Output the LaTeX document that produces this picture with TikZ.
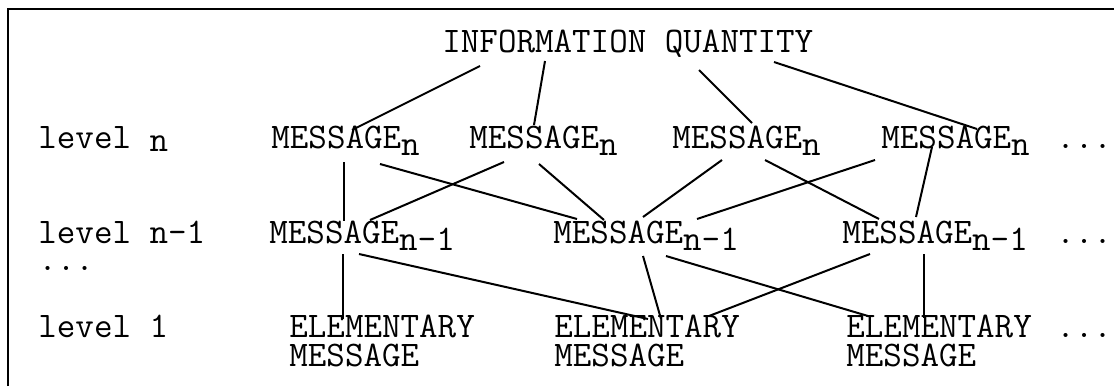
\documentclass[tikz,border=0pt]{standalone}
\usepackage{fontspec}
\usetikzlibrary{calc}
\newcommand{\lowsub}[1]{\raisebox{-3.5pt}{#1}}

\begin{document}
\begin{tikzpicture}[x=0.5pt,y=-0.5pt,
    txt/.style={inner sep=0pt,anchor=base west,align=left,
        font=\fontsize{18}{14.5}\selectfont\ttfamily},
    link/.style={line width=1pt}]
    \useasboundingbox (0,0) rectangle (1114,386);
    \draw[line width=1pt] (8,386) -- (8,9) -- (1114,9);

    \node[txt] (info) at (442,52) {INFORMATION QUANTITY};

    \node[txt] (lvn) at (38,148) {level \raisebox{-1.5pt}{n}};
    \node[txt] (m1) at (271,148) {MESSAGE\lowsub{n}};
    \node[txt] (m2) at (469,148) {MESSAGE\lowsub{n}};
    \node[txt] (m3) at (672,148) {MESSAGE\lowsub{n}};
    \node[txt] (m4) at (881,148) {MESSAGE\lowsub{n}};
    \node[txt] (dn) at (1056,148) {...};

    \node[txt] (lvk) at (38,243) {level n-1};
    \node[txt] (lvd) at (38,270) {...};
    \node[txt] (k1) at (269,243) {MESSAGE\lowsub{n-1}};
    \node[txt] (k2) at (553,243) {MESSAGE\lowsub{n-1}};
    \node[txt] (k3) at (842,243) {MESSAGE\lowsub{n-1}};
    \node[txt] (dk) at (1056,243) {...};

    \node[txt] (lv1) at (38,337) {level 1};
    \node[txt] (e1) at (289,366) {ELEMENTARY\\MESSAGE};
    \node[txt] (e2) at (554,366) {ELEMENTARY\\MESSAGE};
    \node[txt] (e3) at (846,366) {ELEMENTARY\\MESSAGE};
    \node[txt] (de) at (1056,337) {...};

    \draw[link] ($(info.base west)+(38,14)$) -- ($(m1.base west)+(81,-18)$);
    \draw[link] ($(info.base west)+(103,9)$) -- ($(m2.base west)+(65,-23)$);
    \draw[link] ($(info.base west)+(257,18)$) -- ($(m3.base west)+(80,-25)$);
    \draw[link] ($(info.base west)+(332,10)$) -- ($(m4.base west)+(96,-19)$);

    \draw[link] ($(m1.base west)+(73,14)$) -- ($(k1.base west)+(75,-22)$);
    \draw[link] ($(m1.base west)+(109,16)$) -- ($(k2.base west)+(24,-24)$);
    \draw[link] ($(m2.base west)+(35,14)$) -- ($(k1.base west)+(101,-23)$);
    \draw[link] ($(m2.base west)+(70,16)$) -- ($(k2.base west)+(51,-23)$);
    \draw[link] ($(m3.base west)+(50,12)$) -- ($(k2.base west)+(90,-26)$);
    \draw[link] ($(m4.base west)+(-6,12)$) -- ($(k2.base west)+(144,-24)$);
    \draw[link] ($(m3.base west)+(93,12)$) -- ($(k3.base west)+(37,-24)$);
    \draw[link] ($(m4.base west)+(51,-1)$) -- ($(k3.base west)+(74,-26)$);

    \draw[link] ($(k1.base west)+(74,11)$) -- ($(e1.base west)+(54,-47)$);
    \draw[link] ($(k1.base west)+(90,11)$) -- ($(e2.base west)+(94,-47)$);
    \draw[link] ($(k2.base west)+(90,13)$) -- ($(e2.base west)+(107,-47)$);
    \draw[link] ($(k2.base west)+(113,13)$) -- ($(e3.base west)+(22,-50)$);
    \draw[link] ($(k3.base west)+(28,11)$) -- ($(e2.base west)+(155,-50)$);
    \draw[link] ($(k3.base west)+(82,11)$) -- ($(e3.base west)+(78,-48)$);
\end{tikzpicture}
\end{document}
